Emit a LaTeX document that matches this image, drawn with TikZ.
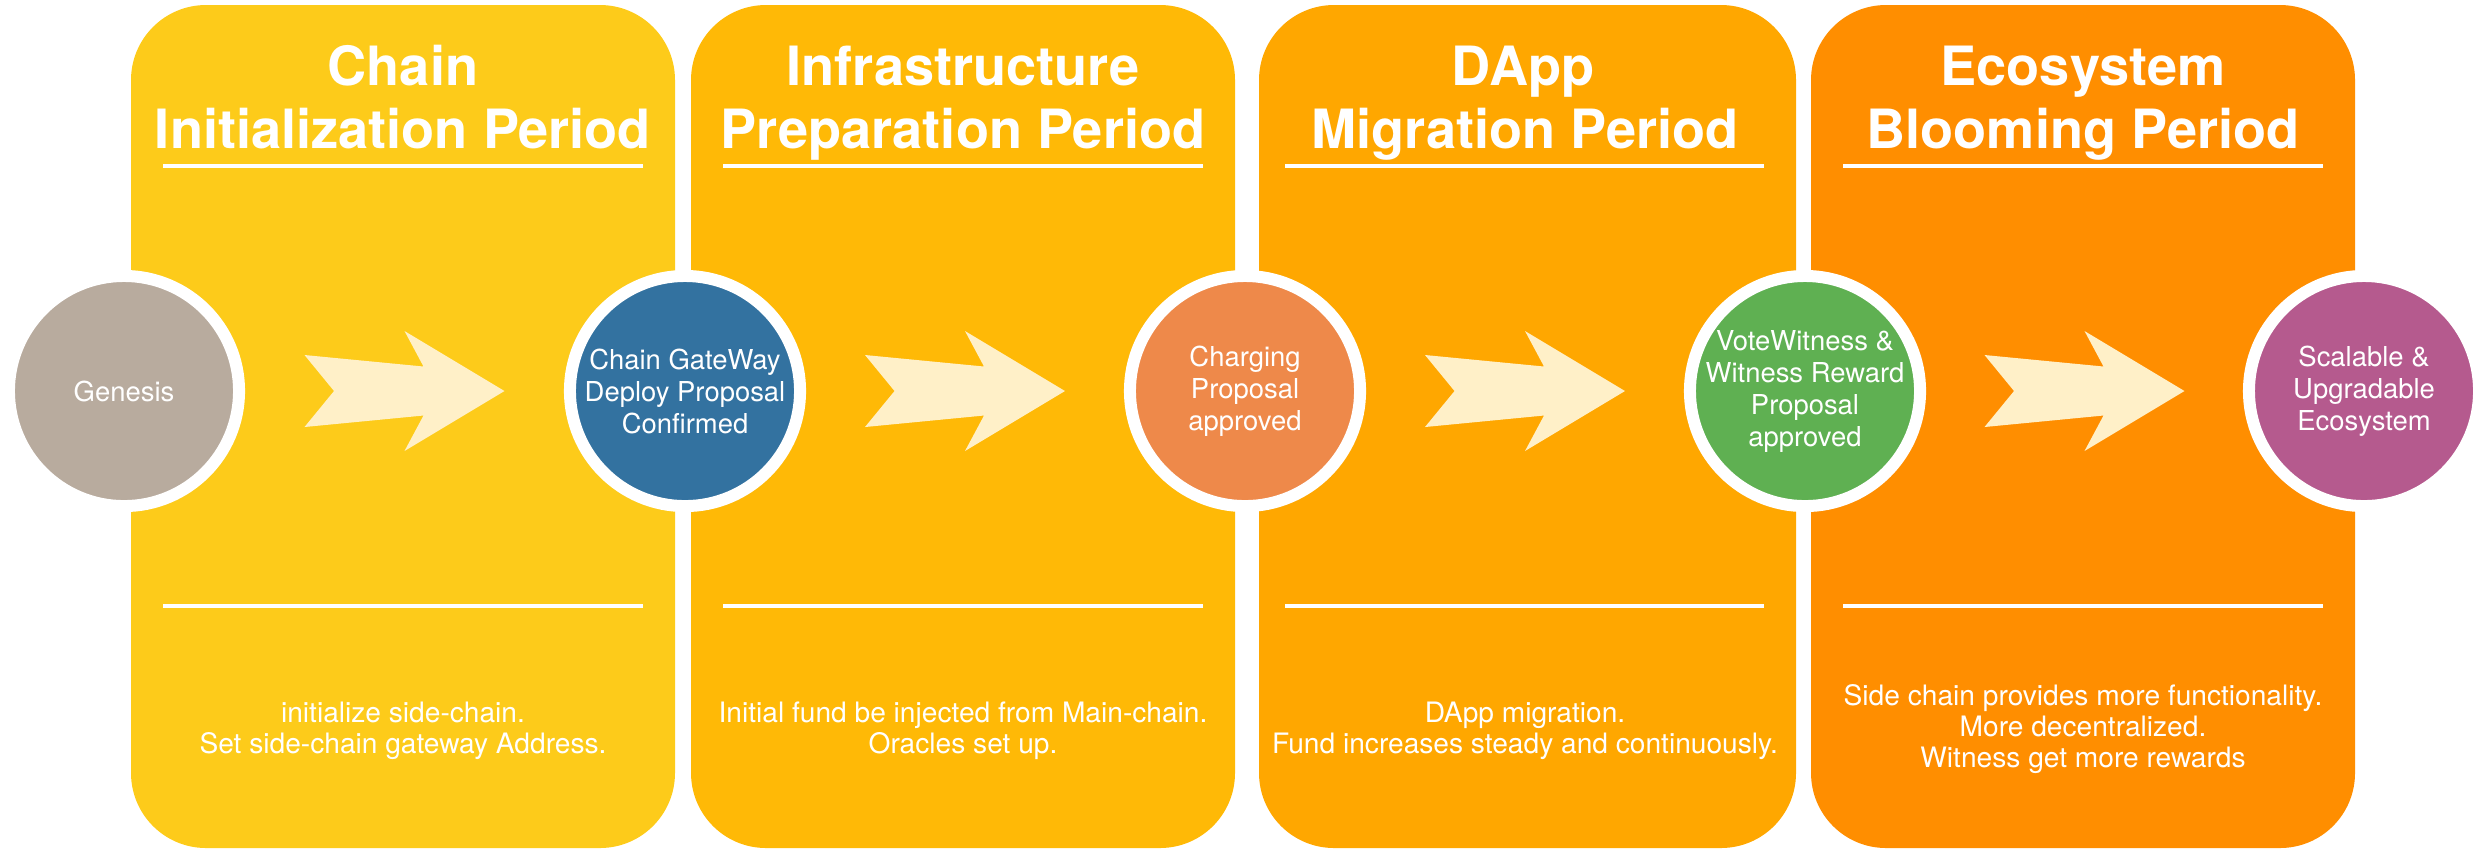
\documentclass[tikz,border=0pt]{standalone}
\usepackage{fontspec}
\setmainfont{TeX Gyre Heros}
\usetikzlibrary{calc}

\definecolor{panelA}{RGB}{253,203,26}
\definecolor{panelB}{RGB}{255,185,6}
\definecolor{panelC}{RGB}{255,167,0}
\definecolor{panelD}{RGB}{255,142,0}
\definecolor{arrowfill}{RGB}{255,240,200}
\definecolor{genesisc}{RGB}{184,171,158}
\definecolor{gatewayc}{RGB}{51,114,160}
\definecolor{chargec}{RGB}{238,137,74}
\definecolor{votec}{RGB}{95,176,82}
\definecolor{scalec}{RGB}{181,90,142}

\tikzset{stagearrow/.pic={
  \fill [arrowfill] (-100,-36) -- (19,-24.5) -- (0,-60) -- (100,0) -- (0,60)
    -- (19,24.5) -- (-100,36) -- (-70.5,0) -- cycle;}}

\begin{document}
\begin{tikzpicture}[x=0.01cm, y=-0.01cm]
\tikzstyle{every node}+=[inner sep=0pt, text=white]
\tikzstyle{period}=[rounded corners=0.75cm]
\tikzstyle{rule}=[white, line width=0.04cm]
\tikzstyle{title}=[anchor=base, font=\fontsize{15.4}{18}\selectfont\bfseries]
\tikzstyle{milestone}=[circle, draw=white, line width=0.12cm, minimum size=2.3cm]
\tikzstyle{mtext}=[align=center, font=\fontsize{7.8}{9.1}\selectfont]
\tikzstyle{desc}=[align=center, font=\fontsize{8}{8.8}\selectfont]
\useasboundingbox (0,0) rectangle (2482,856);
% panels
\fill [panelA, period] (131,5) rectangle (675,848);
\fill [panelB, period] (691,5) rectangle (1235,848);
\fill [panelC, period] (1259,5) rectangle (1796,848);
\fill [panelD, period] (1811,5) rectangle (2355,848);
% rules under titles and above texts
\draw [rule] (163,166) -- (643,166);
\draw [rule] (163,606) -- (643,606);
\draw [rule] (723,166) -- (1203,166);
\draw [rule] (723,606) -- (1203,606);
\draw [rule] (1285,166) -- (1764,166);
\draw [rule] (1285,606) -- (1764,606);
\draw [rule] (1843,166) -- (2323,166);
\draw [rule] (1843,606) -- (2323,606);
% titles
\node [title] (init1) at (403,85) {Chain};
\node [title] (init2) at (403,148) {Initialization Period};
\node [title] (prep1) at (963,85) {Infrastructure};
\node [title] (prep2) at (963,148) {Preparation Period};
\node [title] (migr1) at (1523,85) {DApp};
\node [title] (migr2) at (1525,148) {Migration Period};
\node [title] (bloom1) at (2083,85) {Ecosystem};
\node [title] (bloom2) at (2083,148) {Blooming Period};
% texts
\node [desc] (initdesc) at (403,731) {initialize side-chain.\\Set side-chain gateway Address.};
\node [desc] (prepdesc) at (963,731) {Initial fund be injected from Main-chain.\\Oracles set up.};
\node [desc] (migrdesc) at (1525,731) {DApp migration.\\Fund increases steady and continuously.};
\node [desc] (bloomdesc) at (2083,729) {Side chain provides more functionality.\\More decentralized.\\Witness get more rewards};
% milestones
\node [milestone, fill=genesisc] (genesis) at (124,391) {};
\node [milestone, fill=gatewayc] (gateway) at (685,391) {};
\node [milestone, fill=chargec] (charging) at (1245,391) {};
\node [milestone, fill=votec] (vote) at (1805,391) {};
\node [milestone, fill=scalec] (scalable) at (2364,391) {};
\node [mtext] (genesistext) at (genesis) {Genesis};
\node [mtext] (gatewaytext) at (gateway) {Chain GateWay\\Deploy Proposal\\Confirmed};
\node [mtext] (chargingtext) at (charging) {Charging\\Proposal\\approved};
\node [mtext] (votetext) at (vote) {VoteWitness \&\\Witness Reward\\Proposal\\approved};
\node [mtext] (scalabletext) at (scalable) {Scalable \&\\Upgradable\\Ecosystem};
% arrows
\pic at ($(genesis)!0.5!(gateway)$) {stagearrow};
\pic at ($(gateway)!0.5!(charging)$) {stagearrow};
\pic at ($(charging)!0.5!(vote)$) {stagearrow};
\pic at ($(vote)!0.5!(scalable)$) {stagearrow};
\end{tikzpicture}
\end{document}
